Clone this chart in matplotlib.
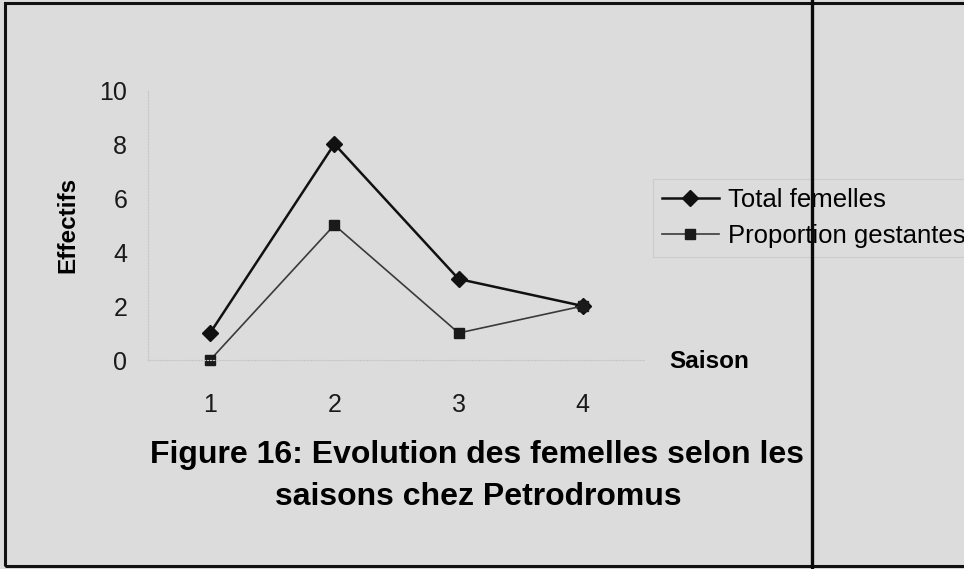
import matplotlib.pyplot as plt
from matplotlib.lines import Line2D
from matplotlib.patches import Rectangle

plt.rcParams["font.family"] = ["Liberation Sans", "DejaVu Sans"]

saisons = [1, 2, 3, 4]
total_femelles = [1, 8, 3, 2]
proportion_gestantes = [0, 5, 1, 2]
y_ticks = [0, 2, 4, 6, 8, 10]

W, H = 964, 569
bg = "#dcdcdc"

fig = plt.figure(figsize=(W / 100, H / 100), dpi=100, facecolor=bg)

# plot area in pixel coords -> figure fractions
left, right, top, bottom = 148, 645, 90, 360
ax = fig.add_axes([left / W, 1 - bottom / H, (right - left) / W, (bottom - top) / H])
ax.set_facecolor(bg)

ax.plot(saisons, total_femelles, color="#111111", lw=1.8, marker="D",
        markersize=8, label="Total femelles", clip_on=False)
ax.plot(saisons, proportion_gestantes, color="#3a3a3a", lw=1.2, marker="s",
        markersize=7.5, markerfacecolor="#1a1a1a", markeredgecolor="#1a1a1a",
        label="Proportion gestantes", clip_on=False)

ax.set_xlim(0.5, 4.5)
ax.set_ylim(0, 10)
ax.set_xticks(saisons)
ax.set_yticks(y_ticks)
ax.tick_params(length=0, labelsize=18, colors="#1a1a1a")
ax.tick_params(axis="x", pad=24)
ax.tick_params(axis="y", pad=15)
for s in ["top", "right"]:
    ax.spines[s].set_visible(False)
for s in ["left", "bottom"]:
    ax.spines[s].set_color("#c6c6c6")
    ax.spines[s].set_linewidth(0.8)
    ax.spines[s].set_linestyle(":")

fig.text(68 / W, 1 - 225 / H, "Effectifs", rotation=90, fontsize=17.5,
         fontweight="bold", ha="center", va="center")
fig.text(669 / W, 1 - 362 / H, "Saison", fontsize=17.5, fontweight="bold",
         ha="left", va="center")

fig.text(477 / W, 1 - 455 / H, "Figure 16: Evolution des femelles selon les",
         fontsize=23, fontweight="bold", ha="center", va="center")
fig.text(478 / W, 1 - 497 / H, "saisons chez Petrodromus",
         fontsize=23, fontweight="bold", ha="center", va="center")

leg = fig.legend(loc="upper left", bbox_to_anchor=(653 / W, 1 - 179 / H),
                 fontsize=18.5, frameon=True, fancybox=False, facecolor=bg,
                 edgecolor="#c8c8c8", handlelength=2.2, handletextpad=0.35,
                 borderpad=0.35, labelspacing=0.45, borderaxespad=0)
leg.get_frame().set_linewidth(0.8)

# scanned page border and the vertical rule crossing the legend
fig.add_artist(Rectangle((5 / W, 3 / H), 1.2, 1 - 6 / H, transform=fig.transFigure,
                         fill=False, edgecolor="#111111", lw=2.2, zorder=10))
fig.add_artist(Line2D([812 / W, 812 / W], [0, 1], transform=fig.transFigure,
                      color="#0a0a0a", lw=2.4, zorder=11))

fig.savefig("out.png", dpi=100, facecolor=bg)
